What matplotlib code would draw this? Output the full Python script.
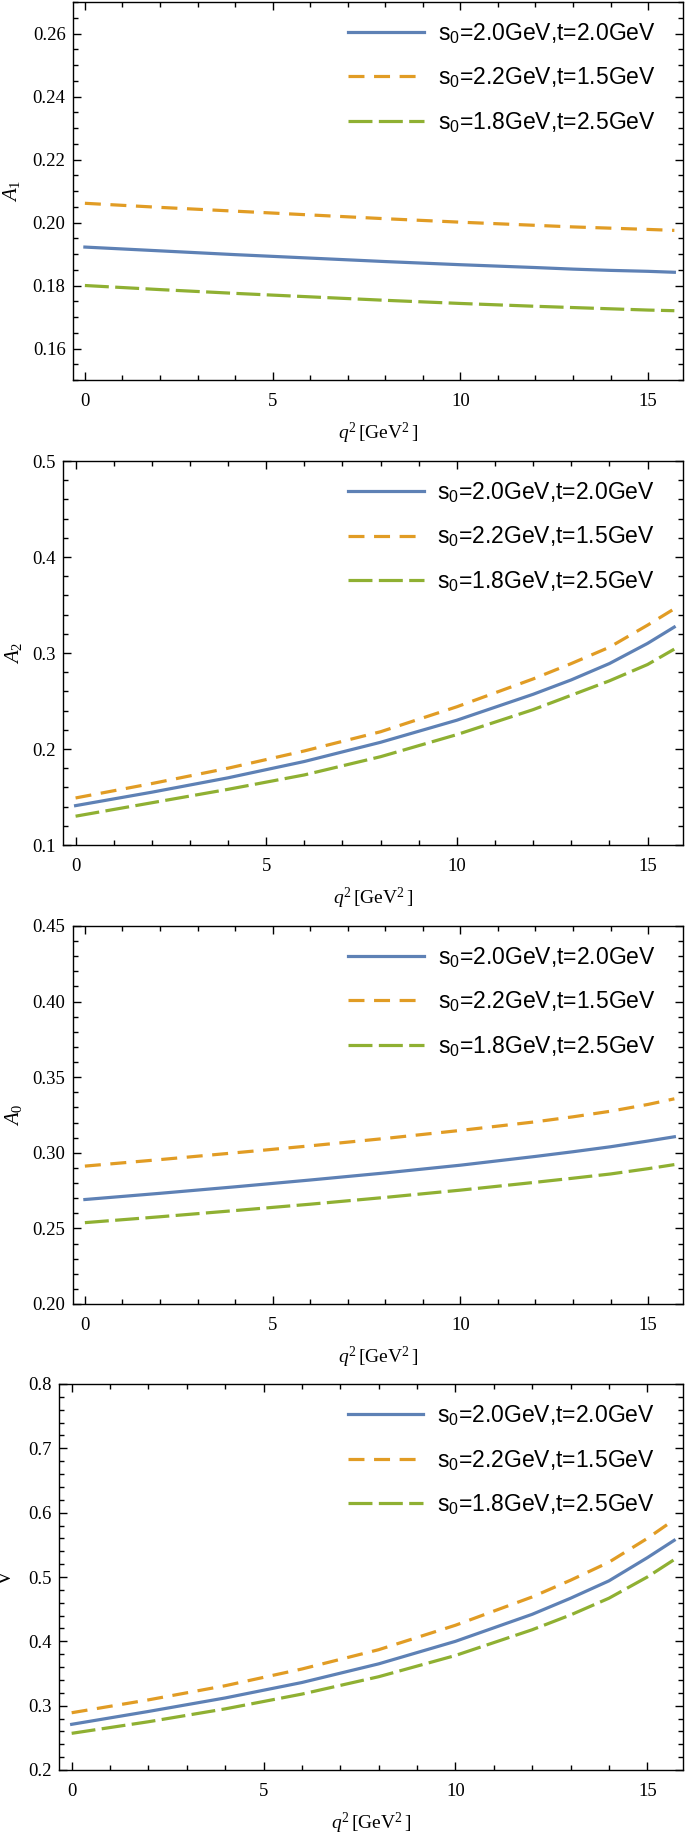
import matplotlib
matplotlib.use("Agg")
import matplotlib.pyplot as plt
from matplotlib.ticker import MultipleLocator, FormatStrFormatter

plt.rcParams["mathtext.fontset"] = "custom"
plt.rcParams["mathtext.rm"] = "Liberation Serif"
plt.rcParams["mathtext.it"] = "Liberation Serif:italic"
plt.rcParams["mathtext.sf"] = "Liberation Sans"
plt.rcParams["font.family"] = ["Liberation Serif", "DejaVu Serif"]

q2 = [0, 2, 4, 6, 8, 10, 12, 13, 14, 15, 15.7]

labels = [r"$\mathsf{s_0}$=2.0GeV,t=2.0GeV",
          r"$\mathsf{s_0}$=2.2GeV,t=1.5GeV",
          r"$\mathsf{s_0}$=1.8GeV,t=2.5GeV"]

# A1 form factor
a1_set1 = [0.1922, 0.1910, 0.1898, 0.1887, 0.1876, 0.1866, 0.1857, 0.1852, 0.1848, 0.1845, 0.1842]
a1_set2 = [0.2061, 0.2048, 0.2036, 0.2024, 0.2012, 0.2001, 0.1991, 0.1986, 0.1982, 0.1978, 0.1975]
a1_set3 = [0.1800, 0.1787, 0.1775, 0.1764, 0.1753, 0.1743, 0.1734, 0.1730, 0.1726, 0.1722, 0.1720]

# A2 form factor
a2_set1 = [0.141, 0.155, 0.170, 0.187, 0.207, 0.230, 0.257, 0.272, 0.289, 0.310, 0.327]
a2_set2 = [0.149, 0.164, 0.180, 0.198, 0.218, 0.244, 0.273, 0.289, 0.306, 0.329, 0.346]
a2_set3 = [0.130, 0.144, 0.158, 0.173, 0.192, 0.215, 0.241, 0.256, 0.271, 0.288, 0.304]

# A0 form factor
a0_set1 = [0.2691, 0.2732, 0.2775, 0.2820, 0.2867, 0.2918, 0.2976, 0.3007, 0.3040, 0.3078, 0.3106]
a0_set2 = [0.2912, 0.2955, 0.3000, 0.3046, 0.3095, 0.3148, 0.3205, 0.3238, 0.3275, 0.3320, 0.3357]
a0_set3 = [0.2538, 0.2577, 0.2618, 0.2660, 0.2705, 0.2753, 0.2805, 0.2832, 0.2860, 0.2895, 0.2922]

# V form factor
v_set1 = [0.271, 0.291, 0.312, 0.336, 0.365, 0.400, 0.442, 0.467, 0.494, 0.530, 0.557]
v_set2 = [0.289, 0.309, 0.331, 0.357, 0.387, 0.425, 0.469, 0.495, 0.523, 0.560, 0.589]
v_set3 = [0.257, 0.275, 0.295, 0.318, 0.345, 0.378, 0.418, 0.441, 0.467, 0.500, 0.527]

colors = ["#5E81B5", "#E19C24", "#8FB032"]
dashes = [None, (5.0, 3.0), (7.5, 2.0)]

W, H = 685, 1834
# left, top, bottom in pixels; ylim; major/minor step; label format; ylabel; ylabel x
panels = [
    (72.5, 2, 380, (0.15, 0.27), 0.02, 0.005, "%.2f", r"$A_1$", 11,
     [a1_set1, a1_set2, a1_set3]),
    (63, 461, 845, (0.1, 0.5), 0.1, 0.02, "%.1f", r"$A_2$", 14,
     [a2_set1, a2_set2, a2_set3]),
    (72.5, 926, 1304, (0.20, 0.45), 0.05, 0.01, "%.2f", r"$A_0$", 14,
     [a0_set1, a0_set2, a0_set3]),
    (59, 1384, 1770, (0.2, 0.8), 0.1, 0.02, "%.1f", "V", 6,
     [v_set1, v_set2, v_set3]),
]

fig = plt.figure(figsize=(W / 100, H / 100), dpi=100)
right = 683

for left, top, bottom, ylim, major, minor, fmt, ylab, ylx, series in panels:
    ax = fig.add_axes([left / W, 1 - bottom / H, (right - left) / W, (bottom - top) / H])
    for ys, c, d, lab in zip(series, colors, dashes, labels):
        line, = ax.plot(q2, ys, color=c, lw=2.3, label=lab)
        if d is not None:
            line.set_dashes(d)
    ax.set_xlim(-0.33, 15.93)
    ax.set_ylim(*ylim)
    ax.xaxis.set_major_locator(MultipleLocator(5))
    ax.xaxis.set_minor_locator(MultipleLocator(1))
    ax.yaxis.set_major_locator(MultipleLocator(major))
    ax.yaxis.set_minor_locator(MultipleLocator(minor))
    ax.yaxis.set_major_formatter(FormatStrFormatter(fmt))
    ax.tick_params(which="both", direction="in", top=True, right=True, width=1.0,
                   labelsize=13.5)
    ax.tick_params(which="major", length=6)
    ax.tick_params(which="minor", length=3.5)
    ax.tick_params(axis="x", pad=9)
    ax.tick_params(axis="y", pad=5)
    for s in ax.spines.values():
        s.set_linewidth(1.0)
    ax.set_xlabel(r"$q^2\,[\mathrm{GeV}^2\,]$", fontsize=14, labelpad=8)
    fig.text(ylx / W, 1 - (top + bottom) / 2 / H, ylab, rotation=90,
             ha="center", va="center", fontsize=15)
    ax.legend(loc="upper right", bbox_to_anchor=(0.955, 0.95), frameon=False,
              prop={"family": ["Liberation Sans", "DejaVu Sans"], "size": 16.5},
              handlelength=3.3, handletextpad=0.6, labelspacing=0.85,
              borderpad=0, borderaxespad=0)

fig.savefig("out.png", dpi=100)
